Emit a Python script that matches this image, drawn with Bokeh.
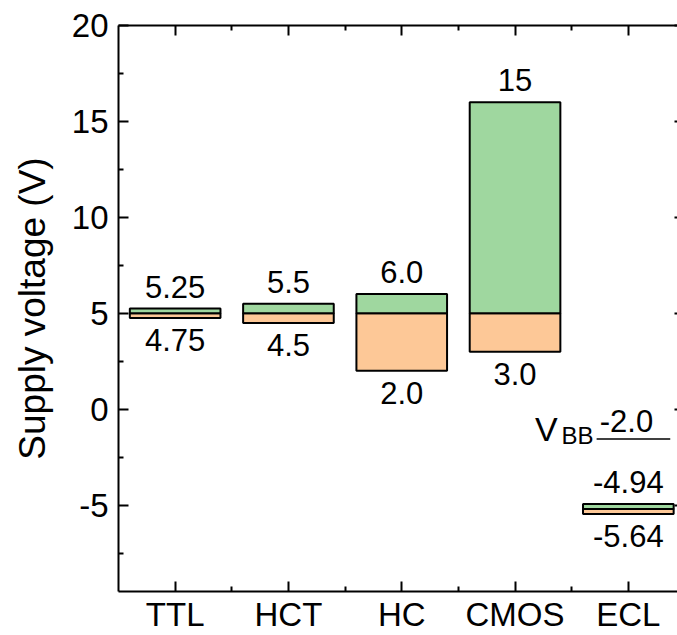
from bokeh.plotting import figure
from bokeh.models import (FixedTicker, LinearAxis, ColumnDataSource, Range1d,
                          CustomJSTickFormatter)
from bokeh.core.properties import value
from bokeh.embed import file_html
from bokeh.resources import INLINE

# ---- data ----
categories = ["TTL", "HCT", "HC", "CMOS", "ECL"]
cat_pos = [1, 2, 3, 4, 5]
v_min = [4.75, 4.5, 2.0, 3.0, -5.46]
v_nom = [5.0, 5.0, 5.0, 5.0, -5.2]
v_max = [5.25, 5.5, 6.0, 16.0, -4.94]
label_max = ["5.25", "5.5", "6.0", "15", "-4.94"]
label_min = ["4.75", "4.5", "2.0", "3.0", "-5.64"]
vbb_level = -1.55
vbb_x = [4.72, 5.37]
vbb_label = "-2.0"

y_major = [-5, 0, 5, 10, 15, 20]
y_major_labels = ["-5", "0", "5", "10", "15", "20"]
y_minor = [-7.5, -2.5, 2.5, 7.5, 12.5, 17.5]
x_minor = [1.5, 2.5, 3.5, 4.5]

FONT = "Liberation Sans"
GREEN = "#9fd79f"
ORANGE = "#fdc897"
bar_w = 0.80

p = figure(width=677, height=635, output_backend="svg", toolbar_location=None,
           x_range=Range1d(0.5, 5.434), y_range=Range1d(-9.5, 20),
           min_border_left=118, min_border_right=0, min_border_top=25,
           min_border_bottom=44, x_axis_location=None, y_axis_location=None)
p.grid.visible = False
p.outline_line_color = None
p.background_fill_color = "white"
p.border_fill_color = "white"

empty = CustomJSTickFormatter(code="return ''")

def style(ax, tick_in=10, minor_in=5):
    ax.axis_line_width = 2
    ax.axis_line_color = "black"
    ax.major_tick_in = tick_in
    ax.major_tick_out = 0
    ax.minor_tick_in = minor_in
    ax.minor_tick_out = 0
    ax.major_tick_line_width = 2
    ax.minor_tick_line_width = 2
    ax.major_tick_line_color = "black"
    ax.minor_tick_line_color = "black"
    ax.major_label_text_font = FONT
    ax.major_label_text_font_size = "33px"
    ax.major_label_text_color = "black"

# left axis
yl = LinearAxis(ticker=FixedTicker(ticks=y_major, minor_ticks=y_minor),
                axis_label="Supply voltage (V)")
style(yl)
yl.major_label_overrides = {t: s for t, s in zip(y_major, y_major_labels)}
yl.major_label_standoff = 10
yl.axis_label_text_font = FONT
yl.axis_label_text_font_size = "37px"
yl.axis_label_text_font_style = "normal"
yl.axis_label_text_color = "black"
yl.axis_label_standoff = 16
p.add_layout(yl, "left")

# right axis (ticks only)
yr = LinearAxis(ticker=FixedTicker(ticks=y_major, minor_ticks=y_minor), formatter=empty)
style(yr, tick_in=3, minor_in=0)
yr.axis_line_color = None
yr.major_label_standoff = 0
yr.major_label_text_font_size = "0px"
p.add_layout(yr, "right")

# bottom axis
xb = LinearAxis(ticker=FixedTicker(ticks=cat_pos, minor_ticks=x_minor))
style(xb)
xb.major_label_overrides = {c: n for c, n in zip(cat_pos, categories)}
xb.major_label_standoff = 4
p.add_layout(xb, "below")

# top axis (ticks only)
xt = LinearAxis(ticker=FixedTicker(ticks=cat_pos, minor_ticks=x_minor), formatter=empty)
style(xt)
xt.major_label_standoff = 0
xt.major_label_text_font_size = "0px"
p.add_layout(xt, "above")

src = ColumnDataSource(dict(x=cat_pos, lo=v_min, mid=v_nom, hi=v_max,
                            lmax=label_max, lmin=label_min))

p.vbar(x="x", width=bar_w, bottom="lo", top="mid", source=src,
       fill_color=ORANGE, line_color="black", line_width=2)
p.vbar(x="x", width=bar_w, bottom="mid", top="hi", source=src,
       fill_color=GREEN, line_color="black", line_width=2)

p.text(x="x", y="hi", text="lmax", source=src, text_font=value(FONT),
       text_font_size="31px", text_align="center", text_baseline="alphabetic",
       y_offset=-22, text_color="black")
p.text(x="x", y="lo", text="lmin", source=src, text_font=value(FONT),
       text_font_size="31px", text_align="center", text_baseline="alphabetic",
       y_offset=22, text_color="black")

# V_BB annotation
p.line(x=vbb_x, y=[vbb_level, vbb_level], line_color="black", line_width=1.5)
p.text(x=[(vbb_x[0] + vbb_x[1]) / 2], y=[vbb_level], text=[vbb_label],
       text_font=value(FONT), text_font_size="31px", text_align="center",
       text_baseline="alphabetic", x_offset=-7, y_offset=-18, text_color="black")
p.text(x=[vbb_x[0]], y=[vbb_level], text=["BB"], text_font=value(FONT),
       text_font_size="24px", text_align="right", text_baseline="alphabetic",
       x_offset=-3, y_offset=-3, text_color="black")
p.text(x=[vbb_x[0]], y=[vbb_level], text=["V"], text_font=value(FONT),
       text_font_size="34px", text_align="right", text_baseline="alphabetic",
       x_offset=-39, y_offset=-10, text_color="black")

open("out.html", "w").write(file_html(p, INLINE))
